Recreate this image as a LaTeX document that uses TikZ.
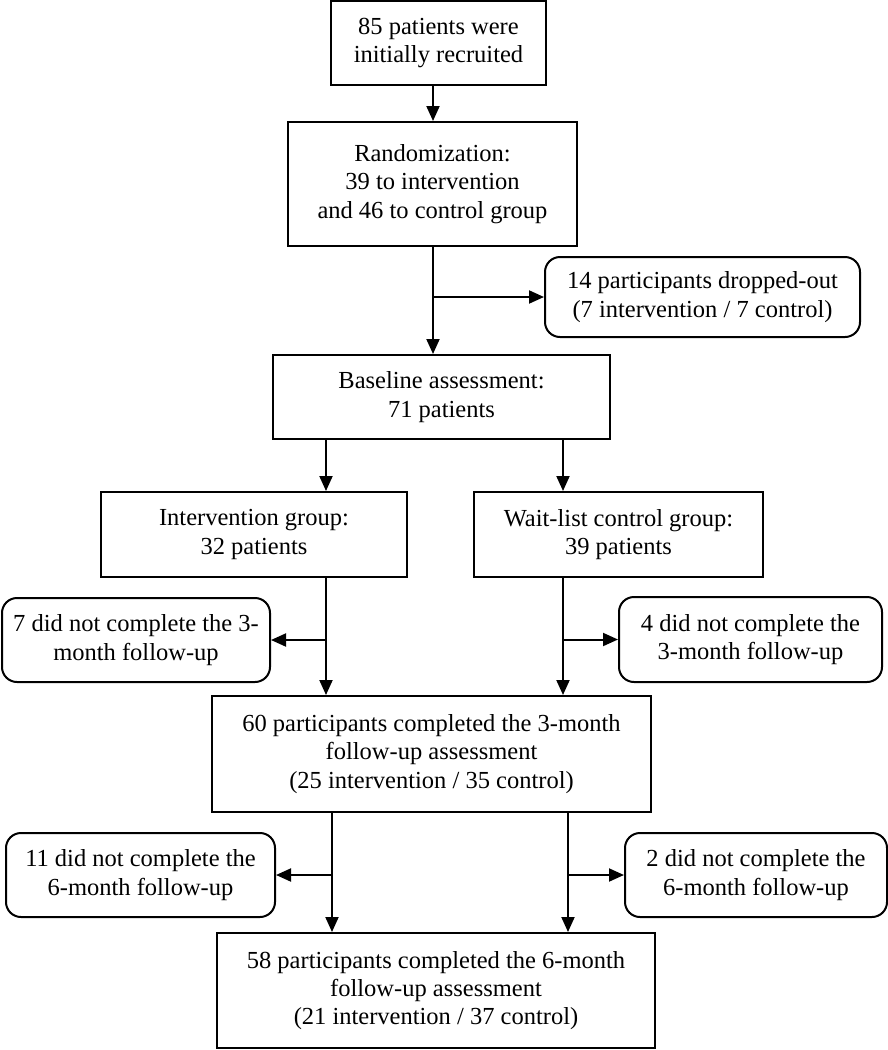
\documentclass[tikz,border=0pt]{standalone}
\usepackage{fontspec}
\setmainfont{Liberation Serif}
\usetikzlibrary{arrows.meta}
\begin{document}
\begin{tikzpicture}[x=1pt,y=-1pt,
  every node/.style={font=\fontsize{24.5}{28.3}\selectfont, align=center, inner sep=0pt},
  box/.style={draw, line width=2pt, rectangle},
  rbox/.style={draw, line width=2pt, rectangle, rounded corners=15pt},
  arr/.style={line width=2pt, -{Triangle[length=15pt,width=13pt]}}]
\useasboundingbox (0,0) rectangle (888,1050);
\node[box, minimum width=215, minimum height=84] (b1) at (438.5,43) {85 patients were\\initially recruited};
\node[box, minimum width=289, minimum height=124] (b2) at (432.5,184) {Randomization:\\39 to intervention\\and 46 to control group};
\node[rbox, minimum width=315, minimum height=80] (drop) at (702.5,297) {14 participants dropped-out\\(7 intervention / 7 control)};
\node[box, minimum width=337, minimum height=84] (b3) at (441.5,397) {Baseline assessment:\\71 patients};
\node[box, minimum width=306, minimum height=85] (int) at (254,534.5) {Intervention group:\\32 patients};
\node[box, minimum width=289, minimum height=85] (wait) at (618.5,534.5) {Wait-list control group:\\39 patients};
\node[rbox, minimum width=268, minimum height=84] (n7) at (136,640) {7 did not complete the 3-\\month follow-up};
\node[rbox, minimum width=263, minimum height=85] (n4) at (750.5,639.5) {4 did not complete the\\3-month follow-up};
\node[box, minimum width=439, minimum height=116] (b60) at (431.5,754) {60 participants completed the 3-month\\follow-up assessment\\(25 intervention / 35 control)};
\node[rbox, minimum width=269, minimum height=84] (n11) at (140.5,875) {11 did not complete the\\6-month follow-up};
\node[rbox, minimum width=262, minimum height=84] (n2) at (756,875) {2 did not complete the\\6-month follow-up};
\node[box, minimum width=438, minimum height=115] (b58) at (436,990.5) {58 participants completed the 6-month\\follow-up assessment\\(21 intervention / 37 control)};
\coordinate (xa) at (433,0);
\coordinate (xb) at (326,0);
\coordinate (xc) at (563,0);
\coordinate (xd) at (332,0);
\coordinate (xe) at (568,0);
\draw[arr] (b1.south -| xa) -- (b2.north -| xa);
\draw[arr] (b2.south -| xa) -- (b3.north -| xa);
\draw[arr] (drop.west -| xa) -- (drop.west);
\draw[arr] (b3.south -| xb) -- (int.north -| xb);
\draw[arr] (b3.south -| xc) -- (wait.north -| xc);
\draw[arr] (int.south -| xb) -- (b60.north -| xb);
\draw[arr] (n7.east -| xb) -- (n7.east);
\draw[arr] (wait.south -| xc) -- (b60.north -| xc);
\draw[arr] (n4.west -| xc) -- (n4.west);
\draw[arr] (b60.south -| xd) -- (b58.north -| xd);
\draw[arr] (n11.east -| xd) -- (n11.east);
\draw[arr] (b60.south -| xe) -- (b58.north -| xe);
\draw[arr] (n2.west -| xe) -- (n2.west);
\end{tikzpicture}
\end{document}
